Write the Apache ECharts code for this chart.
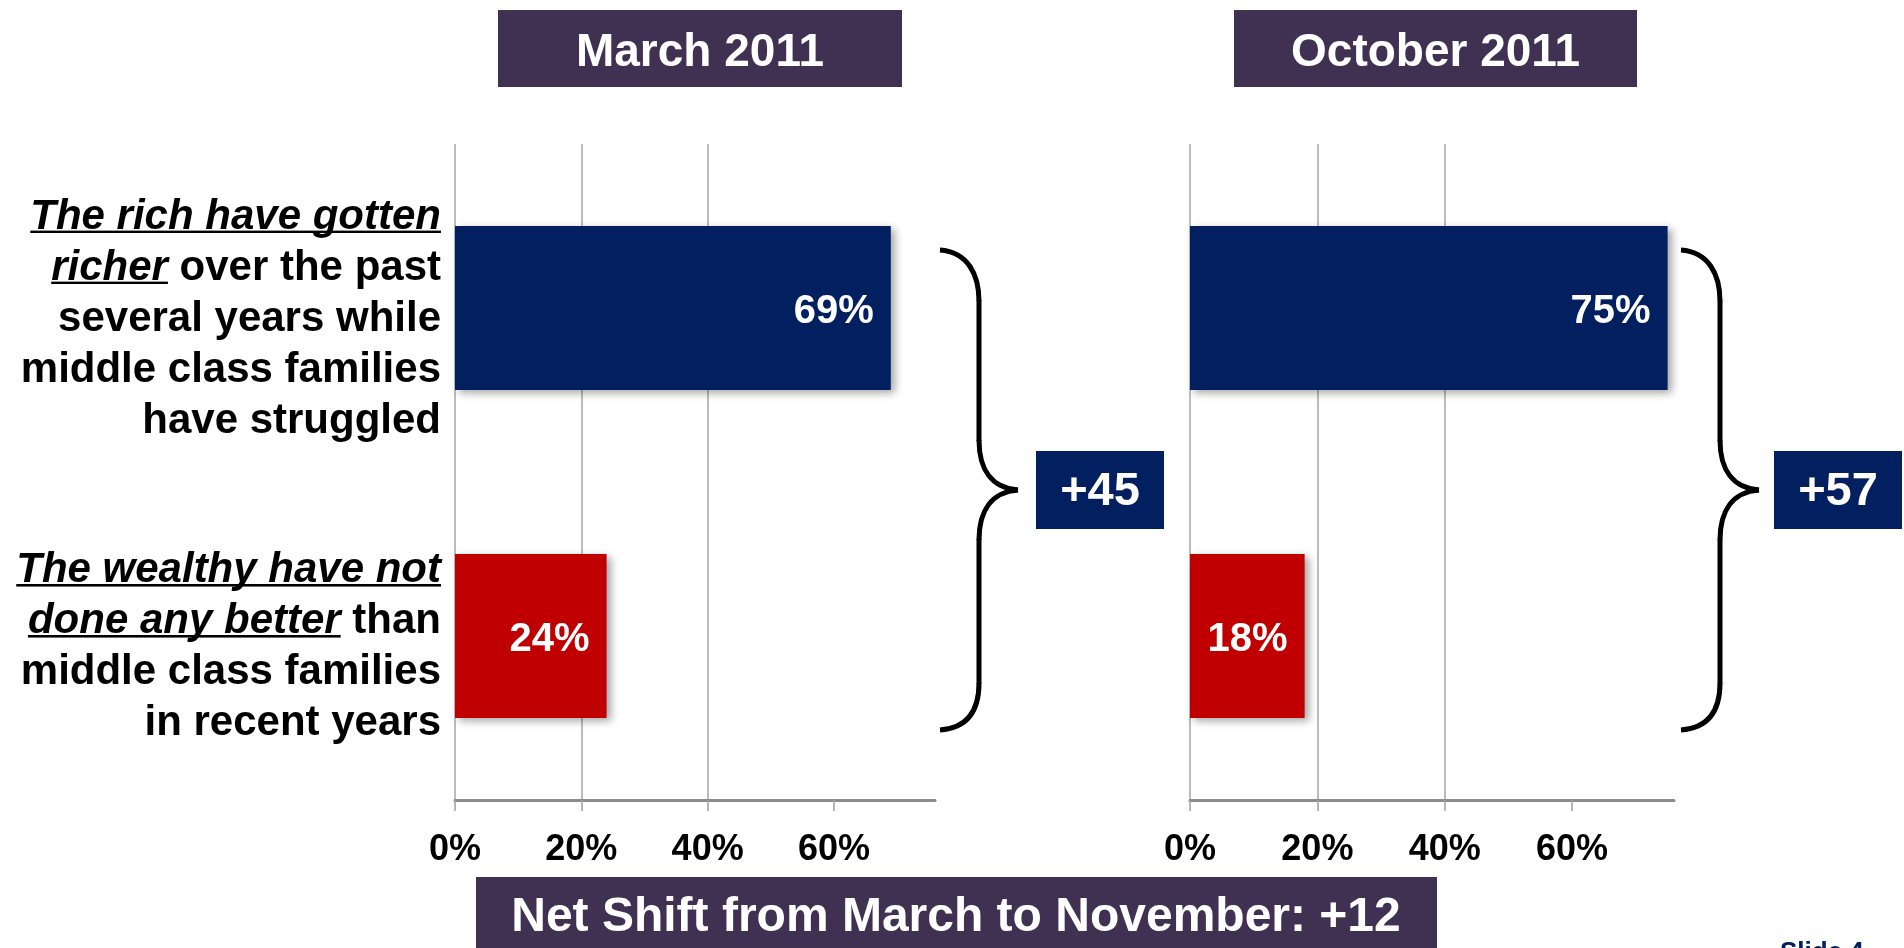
<!DOCTYPE html>
<html>
<head>
<meta charset="utf-8">
<script src="https://cdn.jsdelivr.net/npm/echarts@6/dist/echarts.min.js"></script>
<style>
  html, body { margin: 0; padding: 0; background: #fff; }
  #chart { width: 1904px; height: 948px; }
</style>
</head>
<body>
<div id="chart"></div>
<script>
const categories = [
    'The rich have gotten richer over the past several years while middle class families have struggled',
    'The wealthy have not done any better than middle class families in recent years'
];
// label lines, {u|..} = bold italic underlined
const categoryLabels = [
    '{u|The rich have gotten}\n{u|richer}{n| over the past}\n{n|several years while}\n{n|middle class families}\n{n|have struggled}',
    '{u|The wealthy have not}\n{u|done any better}{n| than}\n{n|middle class families}\n{n|in recent years}'
];
const periods = ['March 2011', 'October 2011'];
const marchValues = [69, 24];
const octoberValues = [75, 18];
const netValues = ['+45', '+57'];
const netShiftText = 'Net Shift from March to November: +12';
const tickValues = [0, 20, 40, 60];
const axisMax = 76;

const FONT = '"Liberation Sans", Arial, sans-serif';
const NAVY = '#022060';
const RED = '#c00000';
const PURPLE = '#403152';
const LINE_H = 51;

let chart = echarts.init(document.querySelector('#chart'));

// small canvas used as an underline background for rich text
let underline = document.createElement('canvas');
underline.width = 4;
underline.height = LINE_H;
let ctx = underline.getContext('2d');
ctx.fillStyle = '#000';
ctx.fillRect(0, 42, 4, 3);

function xAxisFor(gridIndex) {
    return {
        type: 'value',
        gridIndex: gridIndex,
        min: 0,
        max: axisMax,
        interval: 20,
        axisLine: { show: true, lineStyle: { color: '#8c8c8c', width: 3 } },
        axisTick: { show: true, length: 11, customValues: tickValues, lineStyle: { color: '#a0a0a0', width: 1.5 } },
        axisLabel: {
            customValues: tickValues,
            formatter: '{value}%',
            color: '#000',
            fontSize: 36,
            fontWeight: 'bold',
            fontFamily: FONT,
            margin: 32
        },
        splitLine: { show: true, showMaxLine: false, lineStyle: { color: '#a6a6a6', width: 1.5 } }
    };
}

function barSeries(name, values, idx) {
    return {
        name: name,
        type: 'bar',
        xAxisIndex: idx,
        yAxisIndex: idx,
        barWidth: '50%',
        data: values.map((v, i) => ({
            value: v,
            itemStyle: { color: i === 0 ? NAVY : RED }
        })),
        itemStyle: {
            shadowBlur: 8,
            shadowOffsetX: 4,
            shadowOffsetY: 3,
            shadowColor: 'rgba(0,0,0,0.35)'
        },
        label: {
            show: true,
            position: 'insideRight',
            distance: 17,
            offset: [0, 4],
            formatter: '{c}%',
            color: '#fff',
            fontSize: 40,
            fontWeight: 'bold',
            fontFamily: FONT
        },
        silent: true
    };
}

function titleBox(text, x, w) {
    return {
        type: 'group',
        children: [
            { type: 'rect', shape: { x: x, y: 10, width: w, height: 77 }, style: { fill: PURPLE } },
            {
                type: 'text', x: x + w / 2, y: 53,
                style: { text: text, fill: '#fff', font: 'bold 46px ' + FONT, align: 'center', verticalAlign: 'middle' }
            }
        ]
    };
}

function netBox(text, x) {
    return {
        type: 'group',
        children: [
            { type: 'rect', shape: { x: x, y: 451, width: 128, height: 78 }, style: { fill: NAVY } },
            {
                type: 'text', x: x + 64, y: 492,
                style: { text: text, fill: '#fff', font: 'bold 47px ' + FONT, align: 'center', verticalAlign: 'middle' }
            }
        ]
    };
}

function brace(dx) {
    let st = { fill: 'none', stroke: '#000', lineWidth: 5 };
    let curve = (x1, y1, c1x, c1y, c2x, c2y, x2, y2) => ({
        type: 'bezierCurve',
        shape: { x1: x1 + dx, y1: y1, cpx1: c1x + dx, cpy1: c1y, cpx2: c2x + dx, cpy2: c2y, x2: x2 + dx, y2: y2 },
        style: st
    });
    let line = (x1, y1, x2, y2) => ({
        type: 'line',
        shape: { x1: x1 + dx, y1: y1, x2: x2 + dx, y2: y2 },
        style: st
    });
    return {
        type: 'group',
        children: [
            curve(940, 250, 968, 252, 979, 275, 979, 301),
            line(979, 300, 979, 441),
            curve(979, 440, 979, 470, 992, 488, 1018, 490),
            curve(1018, 490, 992, 492, 979, 510, 979, 540),
            line(979, 539, 979, 684),
            curve(979, 683, 979, 710, 968, 728, 940, 730)
        ]
    };
}

let option = {
    animation: false,
    grid: [
        { left: 455, right: 969, top: 144, bottom: 148 },
        { left: 1190, right: 230, top: 144, bottom: 148 }
    ],
    xAxis: [xAxisFor(0), xAxisFor(1)],
    yAxis: [0, 1].map(i => ({
        type: 'category',
        gridIndex: i,
        inverse: true,
        data: categories,
        axisLine: { show: false },
        axisTick: { show: false },
        axisLabel: {
            show: i === 0,
            margin: 14,
            align: 'right',
            padding: [22, 0, 0, 0],
            formatter: (v, idx) => categoryLabels[idx],
            rich: {
                u: {
                    fontSize: 42, fontWeight: 'bold', fontStyle: 'italic', fontFamily: FONT,
                    color: '#000', lineHeight: LINE_H, backgroundColor: { image: underline }
                },
                n: { fontSize: 42, fontWeight: 'bold', fontFamily: FONT, color: '#000', lineHeight: LINE_H }
            }
        }
    })),
    series: [
        barSeries(periods[0], marchValues, 0),
        barSeries(periods[1], octoberValues, 1)
    ],
    graphic: [
        titleBox(periods[0], 498, 404),
        titleBox(periods[1], 1234, 403),
        brace(0),
        brace(741),
        netBox(netValues[0], 1036),
        netBox(netValues[1], 1774),
        { type: 'rect', shape: { x: 476, y: 877, width: 961, height: 90 }, style: { fill: PURPLE } },
        {
            type: 'text', x: 956, y: 918,
            style: { text: netShiftText, fill: '#fff', font: 'bold 48px ' + FONT, align: 'center', verticalAlign: 'middle' }
        },
        {
            type: 'text', x: 1780, y: 940,
            style: { text: 'Slide 4', fill: NAVY, font: 'bold 26px ' + FONT, align: 'left', verticalAlign: 'top' }
        }
    ]
};

chart.setOption(option);

window.onresize = function () {
    chart.resize();
};
</script>
</body>
</html>
